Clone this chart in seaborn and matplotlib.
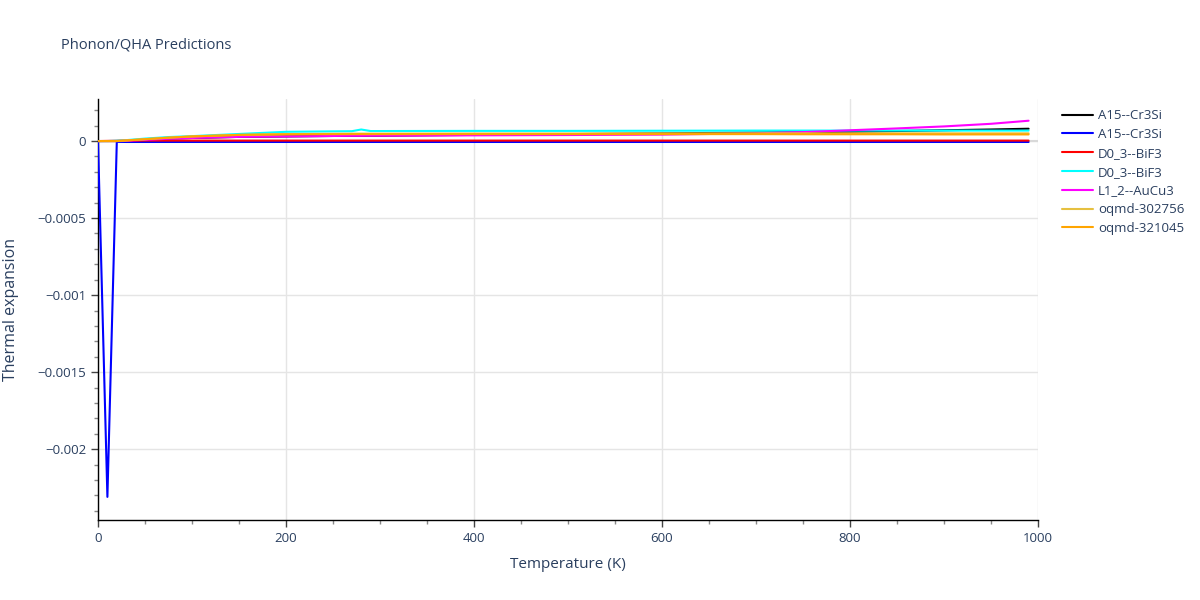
import numpy as np
import pandas as pd
import seaborn as sns
import matplotlib.pyplot as plt
from matplotlib.ticker import MultipleLocator, FuncFormatter

# Temperature grid (K) and thermal expansion
temperature = [0, 10, 20, 30, 50, 75, 100, 150, 200, 250, 270, 280, 290, 300,
               400, 500, 600, 700, 750, 800, 850, 900, 950, 990]

a15_black = [0, 0, 0, 0.000002, 0.000008, 0.000015, 0.00002, 0.000027, 0.00003,
             0.000033, 0.000034, 0.000034, 0.000035, 0.000035, 0.00004, 0.000045,
             0.00005, 0.000055, 0.000058, 0.00006, 0.000065, 0.00007, 0.000075, 0.00008]
a15_blue = [0, -0.00231, -0.000005, -0.000006, -0.000006, -0.000006, -0.000006,
            -0.000006, -0.000006, -0.000006, -0.000006, -0.000006, -0.000006,
            -0.000006, -0.000006, -0.000006, -0.000006, -0.000006, -0.000006,
            -0.000006, -0.000006, -0.000006, -0.000006, -0.000006]
d03_red = [0, 0.000001, 0.000002, 0.000002, 0.000003, 0.000003, 0.000003, 0.000003,
           0.000003, 0.000003, 0.000003, 0.000003, 0.000003, 0.000003, 0.000003,
           0.000003, 0.000003, 0.000003, 0.000003, 0.000003, 0.000003, 0.000003,
           0.000003, 0.000003]
d03_cyan = [0, 0, 0.000002, 0.000006, 0.000016, 0.000026, 0.000032, 0.000046, 0.00006,
            0.000063, 0.000064, 0.000075, 0.000065, 0.000065, 0.000066, 0.000066,
            0.000067, 0.000068, 0.000068, 0.000068, 0.000068, 0.000068, 0.000068, 0.000068]
l12_magenta = [0, 0, 0, 0.000002, 0.000008, 0.000015, 0.00002, 0.000027, 0.00003,
               0.000033, 0.000034, 0.000034, 0.000035, 0.000035, 0.000037, 0.000039,
               0.000042, 0.00005, 0.000058, 0.00007, 0.000082, 0.000095, 0.000112, 0.000132]
oqmd_302756 = [0, 0, 0, 0.000004, 0.000012, 0.000022, 0.00003, 0.00004, 0.000045,
               0.000047, 0.000048, 0.000048, 0.000048, 0.000048, 0.000049, 0.000049,
               0.00005, 0.00005, 0.00005, 0.00005, 0.00005, 0.00005, 0.00005, 0.00005]
oqmd_321045 = [0, 0, 0, 0.000004, 0.000012, 0.000022, 0.00003, 0.00004, 0.000044,
               0.000045, 0.000045, 0.000045, 0.000045, 0.000045, 0.000045, 0.000045,
               0.000045, 0.000045, 0.000044, 0.000044, 0.000044, 0.000043, 0.000043, 0.000043]

series = [
    ('A15--Cr3Si', a15_black, 'black'),
    ('A15--Cr3Si', a15_blue, 'blue'),
    ('D0_3--BiF3', d03_red, 'red'),
    ('D0_3--BiF3', d03_cyan, 'cyan'),
    ('L1_2--AuCu3', l12_magenta, 'magenta'),
    ('oqmd-302756', oqmd_302756, '#e6c040'),
    ('oqmd-321045', oqmd_321045, 'orange'),
]

text_color = '#2a3f5f'
sns.set_theme(style='white')
plt.rcParams['font.family'] = ['Open Sans', 'DejaVu Sans']

fig = plt.figure(figsize=(12, 6), dpi=100)
ax = fig.add_axes([98 / 1200, 80 / 600, 940 / 1200, 421 / 600])

ax.axhline(0, color='#d9d9d9', linewidth=1.5, zorder=1)
for name, vals, color in series:
    sns.lineplot(x=temperature, y=vals, color=color, label=name, linewidth=1.5,
                 ax=ax, zorder=3)

ax.set_xlim(0, 1000)
ax.set_ylim(-0.00246, 0.000273)
ax.xaxis.set_major_locator(MultipleLocator(200))
ax.xaxis.set_minor_locator(MultipleLocator(50))
ax.yaxis.set_major_locator(MultipleLocator(0.0005))
ax.yaxis.set_minor_locator(MultipleLocator(0.0001))
ax.yaxis.set_major_formatter(FuncFormatter(lambda v, p: '0' if abs(v) < 1e-12 else ('%g' % v).replace('-', '\u2212')))

ax.grid(True, which='major', color='#e5e5e5', linewidth=1)
ax.set_axisbelow(True)
for s in ['top', 'right']:
    ax.spines[s].set_visible(False)
for s in ['left', 'bottom']:
    ax.spines[s].set_color('black')
    ax.spines[s].set_linewidth(1)

ax.tick_params(which='major', direction='out', length=5, width=1, color='#444444',
               labelsize=9.5, labelcolor=text_color, left=True, bottom=True)
ax.tick_params(which='minor', direction='out', length=3, width=1, color='#888888',
               left=True, bottom=True)

ax.set_xlabel('Temperature (K)', fontsize=11, color=text_color, labelpad=9)
ax.set_ylabel('Thermal expansion', fontsize=11.5, color=text_color, labelpad=13)

fig.text(61 / 1200, 1 - 45 / 600, 'Phonon/QHA Predictions', fontsize=10.5,
         color=text_color, va='center', ha='left')

ax.legend(loc='upper left', bbox_to_anchor=(1057 / 1200, 1 - 104 / 600),
          bbox_transform=fig.transFigure, frameon=False, fontsize=9.5,
          labelcolor=text_color, handlelength=2.3, labelspacing=0.44,
          borderaxespad=0, handletextpad=0.4)

fig.savefig('out.png', dpi=100)
